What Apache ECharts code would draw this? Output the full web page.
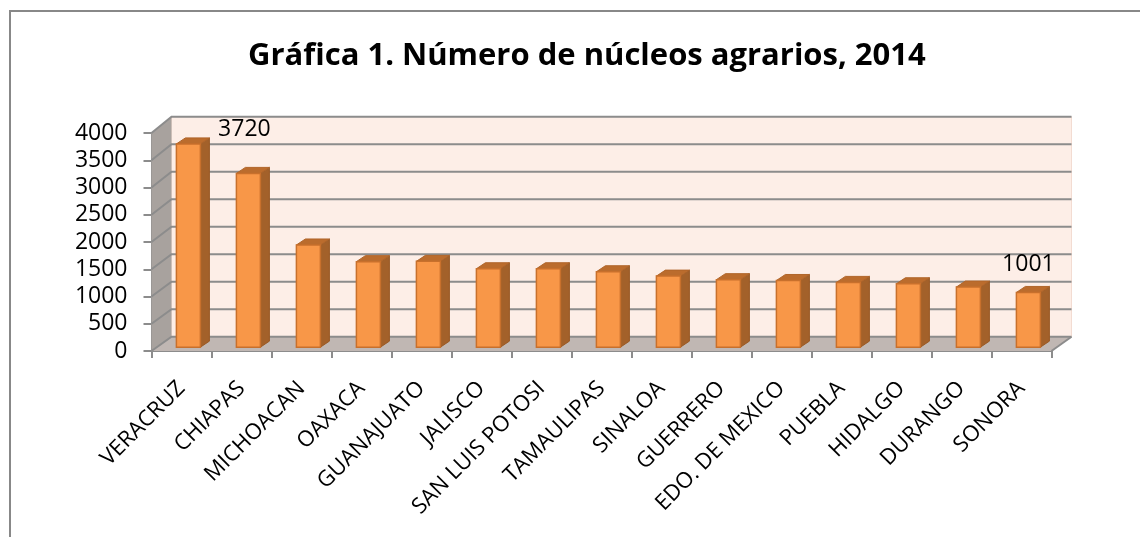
<!DOCTYPE html>
<html><head><meta charset="utf-8">
<script src="https://cdn.jsdelivr.net/npm/echarts@6/dist/echarts.min.js"></script>
<style>html,body{margin:0;padding:0;background:#fff}#c{width:1140px;height:537px}</style>
</head><body><div id="c"></div>
<script>
const titleText = 'Gráfica 1. Número de núcleos agrarios, 2014';
const categories = ['VERACRUZ','CHIAPAS','MICHOACAN','OAXACA','GUANAJUATO','JALISCO','SAN LUIS POTOSI','TAMAULIPAS','SINALOA','GUERRERO','EDO. DE MEXICO','PUEBLA','HIDALGO','DURANGO','SONORA'];
const values = [3720,3180,1870,1565,1570,1435,1435,1380,1300,1235,1220,1185,1160,1100,1001];
const labeledIndices = [0, 14];
const yTicks = [0,500,1000,1500,2000,2500,3000,3500,4000];

// styling of the pseudo-3D box
const DEPTH_X = 20;
const backDY = v => -14.3 - 2 * v / 4000;
const labelOffsets = { 0: [56, -14], 14: [0, -28] };
const FONT = '"Open Sans", "DejaVu Sans", sans-serif';

const chart = echarts.init(document.getElementById('c'), null, { renderer: 'canvas' });

function wallsRender(params, api) {
  const n = categories.length;
  const bw = api.size([1, 0])[0];
  const x0 = api.coord([0, 0])[0] - bw / 2;
  const x1 = api.coord([n - 1, 0])[0] + bw / 2;
  const yMax = yTicks[yTicks.length - 1];
  const y = v => api.coord([0, v])[1];
  const by = v => y(v) + backDY(v);
  const children = [];
  children.push({ type: 'polygon', shape: { points: [[x0 + DEPTH_X, by(yMax)], [x1 + DEPTH_X, by(yMax)], [x1 + DEPTH_X, by(0)], [x0 + DEPTH_X, by(0)]] },
    style: { fill: '#fdeee7', stroke: '#f3dcd2', lineWidth: 1 } });
  children.push({ type: 'polygon', shape: { points: [[x0, y(0)], [x0, y(yMax)], [x0 + DEPTH_X, by(yMax)], [x0 + DEPTH_X, by(0)]] },
    style: { fill: '#a8a29e' } });
  children.push({ type: 'polygon', shape: { points: [[x0, y(0)], [x1, y(0)], [x1 + DEPTH_X, by(0)], [x0 + DEPTH_X, by(0)]] },
    style: { fill: '#c0b7b3' } });
  yTicks.forEach(v => {
    children.push({ type: 'polyline', shape: { points: [[x0, y(v)], [x0 + DEPTH_X, by(v)], [x1 + DEPTH_X, by(v)]] },
      style: { stroke: '#8c8c8c', lineWidth: 2, fill: null } });
  });
  children.push({ type: 'line', shape: { x1: x1, y1: y(0), x2: x1 + DEPTH_X, y2: by(0) }, style: { stroke: '#8c8c8c', lineWidth: 2 } });
  return { type: 'group', children: children, silent: true };
}

function barRender(params, api) {
  const i = api.value(0), v = api.value(1);
  const c = api.coord([i, v]);
  const b = api.coord([i, 0]);
  const bw = api.size([1, 0])[0];
  const f = 0.27;
  const fx = c[0] - bw * 0.085;
  const fw = bw * 0.4;
  const top = c[1] + f * backDY(v);
  const bot = b[1] + f * backDY(0);
  const ddx = 9, ddy = -6;
  const children = [
    { type: 'polygon', shape: { points: [[fx + fw, top], [fx + fw + ddx, top + ddy], [fx + fw + ddx, bot + ddy], [fx + fw, bot]] },
      style: { fill: '#a3612a', stroke: '#9a5a26', lineWidth: 1 } },
    { type: 'polygon', shape: { points: [[fx, top], [fx + ddx, top + ddy], [fx + fw + ddx, top + ddy], [fx + fw, top]] },
      style: { fill: '#bb6c2d', stroke: '#b0652a', lineWidth: 1 } },
    { type: 'rect', shape: { x: fx, y: top, width: fw, height: bot - top },
      style: { fill: '#f89748', stroke: '#c8702c', lineWidth: 1.5 } }
  ];
  if (labeledIndices.indexOf(i) >= 0) {
    const off = labelOffsets[i] || [0, -24];
    children.push({ type: 'text', x: fx + fw / 2 + off[0], y: top + off[1],
      style: { text: String(v), fill: '#000', font: '23px ' + FONT, align: 'center', verticalAlign: 'middle' } });
  }
  return { type: 'group', children: children };
}

chart.setOption({
  animation: false,
  backgroundColor: '#ffffff',
  title: { text: titleText, left: 243, top: 36,
    textStyle: { fontFamily: FONT, fontWeight: 'bold', fontSize: 31, color: '#000' } },
  graphic: [{ type: 'rect', shape: { x: 10, y: 11, width: 1200, height: 600 },
    style: { fill: null, stroke: '#888888', lineWidth: 2 }, silent: true, z: 100 }],
  grid: { left: 151.5, right: 88.5, top: 133, bottom: 186, containLabel: false, outerBoundsMode: 'none' },
  xAxis: {
    type: 'category', data: categories, boundaryGap: true,
    axisLine: { show: true, lineStyle: { color: '#8c8c8c', width: 2 } },
    axisTick: { show: true, length: 7, lineStyle: { color: '#8c8c8c', width: 2 } },
    axisLabel: { rotate: 45, margin: 34, interval: 0, color: '#000', fontFamily: FONT, fontSize: 22 },
    splitLine: { show: false }
  },
  yAxis: {
    type: 'value', min: 0, max: 4000, interval: 500,
    axisLine: { show: true, lineStyle: { color: '#8c8c8c', width: 2 } },
    axisTick: { show: true, length: 8, lineStyle: { color: '#8c8c8c', width: 2 } },
    axisLabel: { margin: 24, color: '#000', fontFamily: FONT, fontSize: 23, formatter: v => String(v) },
    splitLine: { show: false }
  },
  series: [
    { type: 'custom', data: [[0, 0]], renderItem: wallsRender, z: 1, silent: true, clip: false },
    { type: 'custom', data: values.map((v, i) => [i, v]), renderItem: barRender, z: 3, clip: false,
      encode: { x: 0, y: 1 } }
  ]
});
</script>
</body></html>
